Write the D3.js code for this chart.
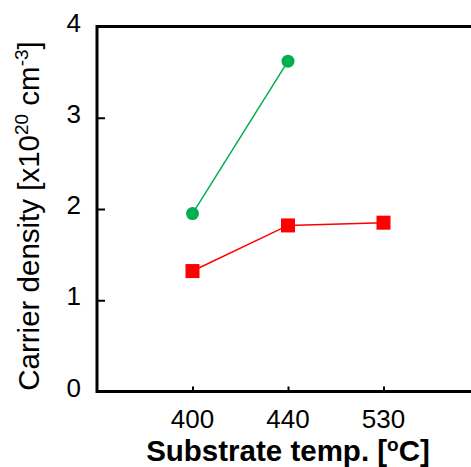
<!DOCTYPE html>
<html><head><meta charset="utf-8">
<script src="https://cdn.jsdelivr.net/npm/d3@7"></script>
<style>body{margin:0;background:#fff;} svg{display:block;}</style>
</head><body>
<script>
const categories = ["400", "440", "530"];
const greenValues = [1.95, 3.62];
const redValues = [1.32, 1.82, 1.85];
const yTicks = [0, 1, 2, 3, 4];

const W = 471, H = 467;
const svg = d3.select("body").append("svg").attr("width", W).attr("height", H);
const x = d3.scalePoint().domain(categories).range([97, 479]).padding(1);
const y = d3.scaleLinear().domain([0, 4]).range([391.5, 26.5]);
const font = "'Liberation Sans', Arial, sans-serif";

// frame
const g = svg.append("g");
g.append("path").attr("d", `M${x.range()[1]},${y(4)}H97V${y(0)}H${x.range()[1]}`)
  .attr("fill", "none").attr("stroke", "#000").attr("stroke-width", 3);

// y axis
const yAxis = d3.axisRight(y).tickValues(yTicks).tickSize(8).tickFormat("");
const ya = svg.append("g").attr("transform", "translate(97,0)").call(yAxis);
ya.select(".domain").remove();
ya.selectAll(".tick line").attr("stroke", "#000").attr("stroke-width", 2);
svg.append("g").selectAll("text").data(yTicks).join("text")
  .attr("x", 81).attr("y", d => y(d) + 5)
  .attr("text-anchor", "end").attr("font-family", font).attr("font-size", 26)
  .text(d => d);

// x axis
const xAxis = d3.axisTop(x).tickSize(5).tickFormat("");
const xa = svg.append("g").attr("transform", `translate(0,${y(0)})`).call(xAxis);
xa.select(".domain").remove();
xa.selectAll(".tick line").attr("stroke", "#000").attr("stroke-width", 2);
svg.append("g").selectAll("text").data(categories).join("text")
  .attr("x", d => x(d)).attr("y", 428)
  .attr("text-anchor", "middle").attr("font-family", font).attr("font-size", 26)
  .text(d => d);

// series
const line = d3.line().x(d => x(d[0])).y(d => y(d[1]));
const red = categories.map((c, i) => [c, redValues[i]]);
const green = greenValues.map((v, i) => [categories[i], v]);
svg.append("path").datum(red).attr("d", line).attr("fill", "none")
  .attr("stroke", "#ff0000").attr("stroke-width", 1.5);
svg.append("path").datum(green).attr("d", line).attr("fill", "none")
  .attr("stroke", "#00b050").attr("stroke-width", 1.5);
svg.append("g").selectAll("rect").data(red).join("rect")
  .attr("x", d => x(d[0]) - 7).attr("y", d => y(d[1]) - 7)
  .attr("width", 14).attr("height", 14).attr("fill", "#ff0000");
svg.append("g").selectAll("circle").data(green).join("circle")
  .attr("cx", d => x(d[0])).attr("cy", d => y(d[1])).attr("r", 6.5)
  .attr("fill", "#00b050");

// titles
const xt = svg.append("text").attr("x", x("440")).attr("y", 461)
  .attr("text-anchor", "middle").attr("font-family", font)
  .attr("font-size", 29.5).attr("font-weight", "bold");
xt.append("tspan").text("Substrate temp. [");
xt.append("tspan").attr("dy", -10).attr("font-size", 19).text("o");
xt.append("tspan").attr("dy", 10).text("C]");

const yt = svg.append("text").attr("transform", "translate(39,216) rotate(-90)")
  .attr("text-anchor", "middle").attr("font-family", font).attr("font-size", 29.5);
yt.append("tspan").text("Carrier density [x10");
yt.append("tspan").attr("dy", -11).attr("font-size", 19).text("20");
yt.append("tspan").attr("dy", 11).text(" cm");
yt.append("tspan").attr("dy", -11).attr("font-size", 19).text("-3");
yt.append("tspan").attr("dy", 11).text("]");
</script>
</body></html>
